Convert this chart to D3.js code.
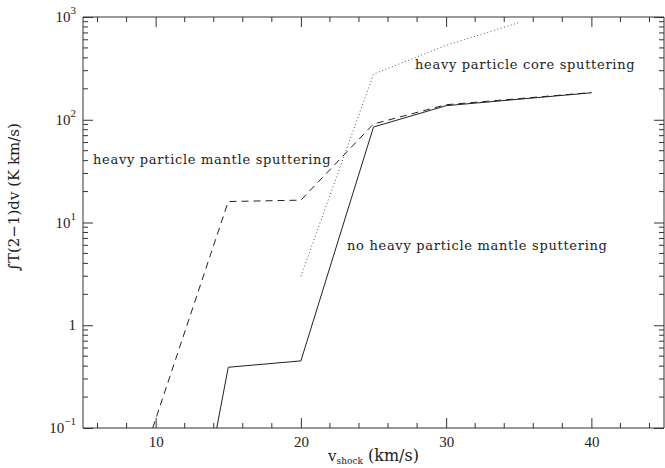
<!DOCTYPE html>
<html lang="en">

<head>
  <meta charset="UTF-8">
  <title>Integrated intensity vs shock velocity</title>
  <script src="https://d3js.org/d3.v7.min.js"></script>
  <style>
    body {
      margin: 0;
      background: #fff;
    }

    text {
      font-family: "DejaVu Serif", "Liberation Serif", serif;
      fill: #222;
    }

    .tick-label {
      font-family: "Liberation Serif", "DejaVu Serif", serif;
    }

    .axis path,
    .axis line {
      stroke: #333;
    }
  </style>
</head>

<body>
  <div id="chart"></div>
  <script>
    // shock velocities (km/s) and integrated intensities (K km/s)
    const noMantleV = [14, 15, 20, 25, 30, 40];
    const noMantleI = [0.07, 0.39, 0.45, 85, 137, 183];

    const mantleV = [9.8, 15, 20, 25, 30, 40];
    const mantleI = [0.1, 16, 16.5, 91, 140, 184];

    const coreV = [20, 25, 30, 35];
    const coreI = [3.0, 278, 530, 880];

    const xTicks = [10, 20, 30, 40];
    const yTicks = [0.1, 1, 10, 100, 1000];
    const yTickLabels = ["10", "1", "10", "10", "10"];
    const yTickExps = ["\u22121", "", "1", "2", "3"];

    const width = 665, height = 468;
    const margin = { top: 17, right: 1, bottom: 40, left: 83 };
    const innerW = width - margin.left - margin.right;
    const innerH = height - margin.top - margin.bottom;

    const svg = d3.select("#chart").append("svg")
      .attr("width", width)
      .attr("height", height);

    const x = d3.scaleLinear().domain([5, 45]).range([margin.left, margin.left + innerW]);
    const y = d3.scaleLog().domain([0.1, 1000]).range([margin.top + innerH, margin.top]);

    svg.append("clipPath").attr("id", "plot")
      .append("rect")
      .attr("x", margin.left).attr("y", margin.top)
      .attr("width", innerW).attr("height", innerH);

    // minor / major ticks on all four sides
    const xMinor = d3.range(6, 45, 2).filter(v => v % 10 !== 0);
    const yMinor = [];
    [0.1, 1, 10, 100].forEach(d => { for (let k = 2; k <= 9; k++) yMinor.push(d * k); });

    const bottomAxis = d3.axisBottom(x).tickValues(xTicks).tickSize(-10).tickPadding(8).tickFormat(d3.format("d"));
    const gB = svg.append("g").attr("class", "axis")
      .attr("transform", `translate(0,${margin.top + innerH})`)
      .call(bottomAxis);
    gB.select(".domain").attr("d", `M${margin.left},0H${margin.left + innerW}`);
    gB.selectAll("text").attr("class", "tick-label").attr("font-size", 15);
    gB.selectAll(".minor").data(xMinor).enter().append("line")
      .attr("class", "minor")
      .attr("x1", d => x(d)).attr("x2", d => x(d))
      .attr("y1", 0).attr("y2", -5).attr("stroke", "#333");

    const gT = svg.append("g").attr("class", "axis")
      .attr("transform", `translate(0,${margin.top})`)
      .call(d3.axisTop(x).tickValues(xTicks).tickSize(-10).tickFormat(""));
    gT.select(".domain").attr("d", `M${margin.left},0H${margin.left + innerW}`);
    gT.selectAll(".minor").data(xMinor).enter().append("line")
      .attr("class", "minor")
      .attr("x1", d => x(d)).attr("x2", d => x(d))
      .attr("y1", 0).attr("y2", 5).attr("stroke", "#333");

    const gL = svg.append("g").attr("class", "axis")
      .attr("transform", `translate(${margin.left},0)`)
      .call(d3.axisLeft(y).tickValues(yTicks).tickSize(-10).tickFormat(""));
    gL.select(".domain").attr("d", `M0,${margin.top}V${margin.top + innerH}`);
    gL.selectAll(".minor").data(yMinor).enter().append("line")
      .attr("class", "minor")
      .attr("y1", d => y(d)).attr("y2", d => y(d))
      .attr("x1", 0).attr("x2", 5).attr("stroke", "#333");

    const gR = svg.append("g").attr("class", "axis")
      .attr("transform", `translate(${margin.left + innerW},0)`)
      .call(d3.axisRight(y).tickValues(yTicks).tickSize(-10).tickFormat(""));
    gR.select(".domain").attr("d", `M0,${margin.top}V${margin.top + innerH}`);
    gR.selectAll(".minor").data(yMinor).enter().append("line")
      .attr("class", "minor")
      .attr("y1", d => y(d)).attr("y2", d => y(d))
      .attr("x1", 0).attr("x2", -5).attr("stroke", "#333");

    // y tick labels with exponents
    const yl = svg.append("g").selectAll("text")
      .data(yTicks).enter().append("text")
      .attr("class", "tick-label")
      .attr("x", margin.left - 7)
      .attr("y", d => y(d) + 5)
      .attr("text-anchor", "end")
      .attr("font-size", 15);
    yl.each(function (d, i) {
      const t = d3.select(this);
      t.append("tspan").text(yTickLabels[i]);
      if (yTickExps[i]) {
        t.append("tspan").attr("dy", -8).attr("font-size", 11).text(yTickExps[i]);
      }
    });

    // axis titles
    const xt = svg.append("text")
      .attr("x", margin.left + innerW / 2).attr("y", 461)
      .attr("text-anchor", "middle")
      .attr("font-size", 15);
    xt.append("tspan").text("v");
    xt.append("tspan").attr("dy", 3).attr("font-size", 9).text("shock");
    xt.append("tspan").attr("dy", -3).attr("font-size", 16).text(" (km/s)");

    svg.append("text")
      .attr("transform", "translate(19,197) rotate(-90)")
      .attr("text-anchor", "middle")
      .attr("font-size", 15)
      .text("\u222BT(2\u22121)dv (K km/s)");

    // curves
    const line = d3.line().x(d => x(d[0])).y(d => y(d[1]));
    const plot = svg.append("g").attr("clip-path", "url(#plot)");

    plot.append("path")
      .datum(d3.zip(noMantleV, noMantleI))
      .attr("d", line)
      .attr("fill", "none").attr("stroke", "#222").attr("stroke-width", 1);

    plot.append("path")
      .datum(d3.zip(mantleV, mantleI))
      .attr("d", line)
      .attr("fill", "none").attr("stroke", "#222").attr("stroke-width", 1)
      .attr("stroke-dasharray", "7,5");

    plot.append("path")
      .datum(d3.zip(coreV, coreI))
      .attr("d", line)
      .attr("fill", "none").attr("stroke", "#555").attr("stroke-width", 1)
      .attr("stroke-dasharray", "1,2.5");

    // curve labels
    const labels = svg.append("g")
      .attr("font-size", 13)
      .attr("letter-spacing", 0.7);
    labels.append("text").attr("x", 415).attr("y", 69)
      .text("heavy particle core sputtering");
    labels.append("text").attr("x", 93).attr("y", 164)
      .text("heavy particle mantle sputtering");
    labels.append("text").attr("x", 347).attr("y", 250)
      .text("no heavy particle mantle sputtering");
  </script>
</body>

</html>
